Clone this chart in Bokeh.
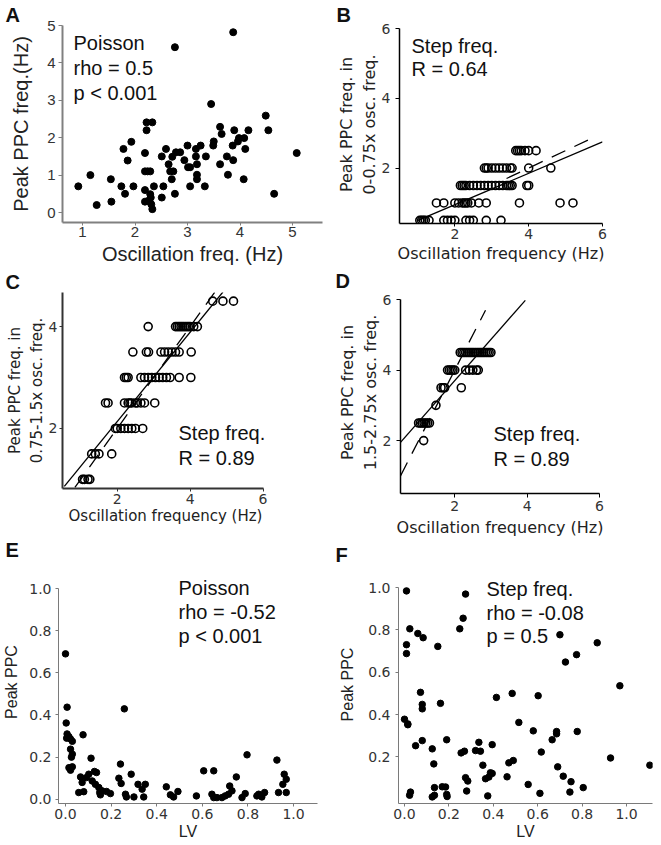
from bokeh.plotting import figure
from bokeh.models import Range1d, FixedTicker, Label, PrintfTickFormatter
from bokeh.layouts import row, column
from bokeh.embed import file_html
from bokeh.resources import INLINE

ARIAL = "Liberation Sans"
DJV = "DejaVu Sans"

# ---------------- data ----------------
# A: Poisson, oscillation freq vs peak PPC freq
a_osc = [0.92, 1.15, 1.27, 1.54, 1.55, 1.74, 1.78, 1.81, 1.86, 1.93,
         1.97, 2.19, 2.19, 2.19, 2.19, 2.24, 2.29, 2.22, 2.22, 2.33,
         2.25, 2.29, 2.30, 2.31, 2.33, 2.36, 2.51, 2.51, 2.54, 2.59,
         2.64, 2.67, 2.71, 2.73, 2.70, 2.76, 2.76, 2.78, 2.86, 2.94,
         3.00, 3.01, 3.05, 3.05, 3.16, 3.16, 3.18, 3.18, 3.18, 3.25,
         3.33, 3.35, 3.45, 3.49, 3.50, 3.62, 3.62, 3.65, 3.75, 3.77,
         3.86, 3.87, 3.87, 3.89, 3.96, 3.98, 4.07, 4.08, 4.10, 4.16,
         4.49, 4.54, 4.65, 5.08]
a_ppc = [0.70, 1.00, 0.20, 0.89, 0.29, 0.70, 1.70, 0.50, 1.39, 1.89,
         0.70, 1.59, 0.60, 0.29, 1.10, 1.10, 1.10, 2.20, 2.41, 2.41,
         0.31, 0.49, 0.40, 0.22, 0.09, 0.70, 0.40, 1.50, 0.70, 1.70,
         1.29, 1.10, 1.49, 1.10, 0.89, 0.50, 4.42, 1.61, 1.61, 1.40,
         1.79, 1.21, 1.21, 0.70, 1.70, 1.50, 1.29, 1.01, 0.89, 1.79,
         0.70, 1.50, 2.90, 1.79, 1.90, 1.29, 2.29, 2.10, 1.50, 1.01,
         1.79, 1.40, 4.82, 2.20, 1.90, 1.99, 0.89, 1.99, 1.70, 2.20,
         2.59, 2.20, 0.50, 1.59]

# B: step freq, 0-0.75x band
b_osc = [1.05, 1.1, 1.15, 1.2, 1.3, 1.7, 1.8, 1.9, 2.0, 2.3, 2.4, 2.5, 2.85, 3.25,
         1.5, 1.7, 2.0, 2.1, 2.2, 2.25, 2.3, 2.35, 2.45, 2.65, 2.85, 3.75, 4.85, 5.2,
         2.15, 2.2, 2.25, 2.3, 2.4, 2.5, 2.6, 2.7, 2.8, 2.9, 3.0, 3.1, 3.2, 3.3, 3.4, 3.45, 3.5, 3.55, 3.95, 4.0,
         2.8, 2.85, 2.9, 3.0, 3.1, 3.2, 3.3, 3.4, 3.5, 3.55, 4.0, 4.6,
         3.65, 3.7, 3.75, 3.8, 3.9, 4.0, 4.2]
b_peak = [0.5, 0.5, 0.5, 0.5, 0.5, 0.5, 0.5, 0.5, 0.5, 0.5, 0.5, 0.5, 0.5, 0.5,
          1.0, 1.0, 1.0, 1.0, 1.0, 1.0, 1.0, 1.0, 1.0, 1.0, 1.0, 1.0, 1.0, 1.0,
          1.5, 1.5, 1.5, 1.5, 1.5, 1.5, 1.5, 1.5, 1.5, 1.5, 1.5, 1.5, 1.5, 1.5, 1.5, 1.5, 1.5, 1.5, 1.5, 1.5,
          2.0, 2.0, 2.0, 2.0, 2.0, 2.0, 2.0, 2.0, 2.0, 2.0, 2.0, 2.0,
          2.5, 2.5, 2.5, 2.5, 2.5, 2.5, 2.5]
b_fit_x = [1.0, 6.0]
b_fit_y = [0.5, 2.75]
b_ref_x = [3.4, 5.85]
b_ref_y = [1.7, 2.925]

# C: step freq, 0.75-1.5x band
c_osc = [1.05, 1.1, 1.2, 1.25,
         1.3, 1.4, 1.5, 1.85,
         1.95, 2.0, 2.1, 2.2, 2.3, 2.4, 2.5, 2.7,
         1.68, 1.75, 2.2, 2.3, 2.35, 2.4, 2.5, 2.55, 2.65, 2.75, 3.03,
         2.2, 2.25, 2.3, 2.65, 2.75, 2.85, 2.95, 3.05, 3.15, 3.25, 3.35, 3.45, 3.7, 4.02,
         2.43, 2.8, 2.86, 3.2, 3.3, 3.4, 3.5, 3.6, 3.7, 4.03,
         2.85, 3.6, 3.65, 3.7, 3.75, 3.8, 3.85, 3.9, 3.95, 4.0, 4.1, 4.2,
         4.62, 4.9, 5.19]
c_peak = [1.0, 1.0, 1.0, 1.0,
          1.5, 1.5, 1.5, 1.5,
          2.0, 2.0, 2.0, 2.0, 2.0, 2.0, 2.0, 2.0,
          2.5, 2.5, 2.5, 2.5, 2.5, 2.5, 2.5, 2.5, 2.5, 2.5, 2.5,
          3.0, 3.0, 3.0, 3.0, 3.0, 3.0, 3.0, 3.0, 3.0, 3.0, 3.0, 3.0, 3.0, 3.0,
          3.5, 3.5, 3.5, 3.5, 3.5, 3.5, 3.5, 3.5, 3.5, 3.5,
          4.0, 4.0, 4.0, 4.0, 4.0, 4.0, 4.0, 4.0, 4.0, 4.0, 4.0, 4.0,
          4.5, 4.5, 4.5]
c_fit_x = [0.55, 4.9]
c_fit_y = [0.86, 4.68]
c_ref_x = [0.84, 4.75]
c_ref_y = [0.84, 4.75]

# D: step freq, 1.5-2.75x band
d_osc = [1.14,
         1.0, 1.05, 1.1, 1.15, 1.2, 1.25, 1.3,
         1.48,
         1.62, 1.68, 1.72, 2.18,
         1.8, 1.85, 1.9, 1.95, 2.0, 2.3, 2.4, 2.5, 2.6, 2.65,
         2.15, 2.2, 2.25, 2.3, 2.35, 2.4, 2.45, 2.5, 2.55, 2.6, 2.65, 2.7, 2.75, 2.8, 2.85, 2.9, 2.95, 3.0]
d_peak = [2.0,
          2.5, 2.5, 2.5, 2.5, 2.5, 2.5, 2.5,
          3.0,
          3.5, 3.5, 3.5, 3.5,
          4.0, 4.0, 4.0, 4.0, 4.0, 4.0, 4.0, 4.0, 4.0, 4.0,
          4.5, 4.5, 4.5, 4.5, 4.5, 4.5, 4.5, 4.5, 4.5, 4.5, 4.5, 4.5, 4.5, 4.5, 4.5, 4.5, 4.5, 4.5]
d_fit_x = [0.5, 3.95]
d_fit_y = [1.95, 5.98]
d_ref_x = [0.5, 2.85]
d_ref_y = [1.0, 5.7]

# E: Poisson, LV vs peak PPC
e_lv = [0.0, 0.007, 0.003, 0.007, 0.015, 0.005, 0.022, 0.03, 0.022, 0.03,
        0.026, 0.015, 0.022, 0.03, 0.058, 0.066, 0.073, 0.08, 0.077, 0.092,
        0.102, 0.112, 0.117, 0.127, 0.136, 0.131, 0.146, 0.15, 0.153, 0.16,
        0.18, 0.197, 0.241, 0.234, 0.244, 0.258, 0.263, 0.267, 0.288, 0.30,
        0.318, 0.336, 0.343, 0.35, 0.442, 0.46, 0.474, 0.493, 0.574, 0.606,
        0.642, 0.65, 0.65, 0.664, 0.686, 0.70, 0.715, 0.72, 0.73, 0.749,
        0.774, 0.788, 0.796, 0.839, 0.847, 0.861, 0.873, 0.927, 0.934, 0.953,
        0.959, 0.968, 0.968]
e_ppc = [0.69, 0.437, 0.362, 0.31, 0.297, 0.29, 0.286, 0.275, 0.238, 0.214,
         0.20, 0.15, 0.138, 0.154, 0.032, 0.106, 0.08, 0.036, 0.306, 0.103,
         0.119, 0.195, 0.087, 0.132, 0.127, 0.071, 0.056, 0.032, 0.021, 0.04,
         0.037, 0.027, 0.167, 0.10, 0.075, 0.429, 0.024, 0.011, 0.119, 0.011,
         0.071, 0.048, 0.011, 0.071, 0.059, 0.021, 0.011, 0.037, 0.016, 0.135,
         0.024, 0.135, 0.008, 0.008, 0.008, 0.016, 0.024, 0.063, 0.04, 0.106,
         0.008, 0.027, 0.211, 0.016, 0.024, 0.011, 0.032, 0.186, 0.032, 0.071,
         0.119, 0.095, 0.032]

# F: step freq, LV vs peak PPC
f_lv = [0.009, 0.275, 0.264, 0.249, 0.024, 0.06, 0.084, 0.009, 0.15, 0.009,
        0.70, 0.868, 0.775, 0.725, 0.97, 0.072, 0.08, 0.08, 0.162, 0.414,
        0.485, 0.602, 0.0, 0.015, 0.015, 0.515, 0.58, 0.685, 0.685, 0.778,
        0.665, 0.05, 0.08, 0.125, 0.19, 0.335, 0.255, 0.27, 0.32, 0.342,
        0.395, 0.616, 0.928, 1.105, 0.132, 0.353, 0.47, 0.49, 0.69, 0.275,
        0.285, 0.365, 0.38, 0.395, 0.387, 0.462, 0.715, 0.75, 0.745, 0.805,
        0.557, 0.61, 0.135, 0.17, 0.185, 0.28, 0.027, 0.023, 0.125, 0.135,
        0.19, 0.192, 0.375]
f_ppc = [0.984, 0.969, 0.855, 0.805, 0.805, 0.783, 0.763, 0.73, 0.722, 0.688,
         0.777, 0.739, 0.683, 0.648, 0.536, 0.505, 0.448, 0.427, 0.453, 0.481,
         0.50, 0.489, 0.378, 0.356, 0.352, 0.363, 0.323, 0.309, 0.32, 0.32,
         0.281, 0.253, 0.277, 0.238, 0.281, 0.269, 0.219, 0.227, 0.23, 0.227,
         0.258, 0.223, 0.195, 0.161, 0.167, 0.161, 0.172, 0.183, 0.153, 0.102,
         0.086, 0.097, 0.105, 0.122, 0.125, 0.106, 0.109, 0.083, 0.034, 0.055,
         0.07, 0.028, 0.055, 0.059, 0.058, 0.039, 0.034, 0.019, 0.011, 0.019,
         0.023, 0.013, 0.016]

a_xticks = [1, 2, 3, 4, 5]
a_yticks = [0, 1, 2, 3, 4, 5]
bd_xticks = [2, 4, 6]
bd_yticks = [2, 4, 6]
c_yticks = [2, 4]
e_ticks = [0.0, 0.2, 0.4, 0.6, 0.8, 1.0]
f_yticks = [0.2, 0.4, 0.6, 0.8, 1.0]


# ---------------- helpers ----------------
def make_fig(box, xr, yr, letter, letter_x):
    ox, oy, w, h, fl, ft, fw, fh = box
    p = figure(width=w, height=h, x_range=Range1d(*xr), y_range=Range1d(*yr),
               output_backend="svg", toolbar_location=None, title=letter,
               min_border_left=fl, min_border_right=w - fl - fw,
               min_border_top=ft, min_border_bottom=h - ft - fh)
    try:
        p.frame_align = False
    except Exception:
        pass
    p.xgrid.visible = False
    p.ygrid.visible = False
    p.outline_line_color = None
    p.background_fill_color = "white"
    p.border_fill_color = "white"
    t = p.title
    t.align = "left"
    t.vertical_align = "bottom"
    t.text_font = ARIAL
    t.text_font_size = "20px"
    t.text_font_style = "bold"
    t.text_color = "#111111"
    t.offset = letter_x - ox - fl - 3
    try:
        t.standoff = 0
    except Exception:
        pass
    return p


def style_axis(ax, ticks, lab, line_color, line_width, tick_font, tick_size,
               lab_font, lab_size, tick_out, tstand, lstand, fmt=None, bounds=None):
    ax.ticker = FixedTicker(ticks=ticks)
    ax.minor_tick_line_color = None
    ax.major_tick_in = 0
    ax.major_tick_out = tick_out
    ax.axis_line_color = line_color
    ax.axis_line_width = line_width
    ax.major_tick_line_color = line_color
    ax.major_tick_line_width = 1
    ax.major_label_text_font = tick_font
    ax.major_label_text_font_size = f"{tick_size}px"
    ax.major_label_text_color = "#333333"
    ax.major_label_standoff = tstand
    ax.axis_label = lab
    ax.axis_label_text_font = lab_font
    ax.axis_label_text_font_size = f"{lab_size}px"
    ax.axis_label_text_font_style = "normal"
    ax.axis_label_text_color = "#222222"
    ax.axis_label_standoff = lstand
    if bounds is not None:
        ax.bounds = bounds
    if fmt is not None:
        ax.formatter = PrintfTickFormatter(format=fmt)


def add_text(p, box, rx, ry, text, size, font=ARIAL):
    # rx, ry: page position of the text's left edge and baseline
    ox, oy, w, h, fl, ft, fw, fh = box
    sx = rx - ox - fl
    sy = (oy + ft + fh) - ry
    p.add_layout(Label(x=sx, y=sy, x_units="screen", y_units="screen", text=text,
                       text_font=font, text_font_size=f"{size}px",
                       text_baseline="alphabetic", text_align="left",
                       text_color="#111111"))


# boxes: page x, page y, width, height, frame left, frame top, frame width, frame height
BOX_A = (0, 0, 330, 268, 62, 25, 260, 197)
BOX_B = (330, 0, 330, 266, 69, 25, 203, 198)
BOX_C = (0, 268, 330, 260, 62, 24, 206, 196)
BOX_D = (330, 266, 330, 274, 70, 25, 199, 202)
BOX_E = (0, 528, 330, 316, 58, 32, 259, 243)
BOX_F = (330, 540, 330, 304, 68, 25, 254, 238)

# ---------------- panel A ----------------
pA = make_fig(BOX_A, (0.619, 5.571), (-0.267, 5.0), "A", 8)
pA.scatter(a_osc, a_ppc, size=7, color="black")
style_axis(pA.xaxis[0], a_xticks, "Oscillation freq. (Hz)", "#808080", 2, ARIAL, 15, ARIAL, 20, 3, 1, 3)
style_axis(pA.yaxis[0], a_yticks, "Peak PPC freq.(Hz)", "#808080", 2, ARIAL, 15, ARIAL, 20, 4, 3, 12)
add_text(pA, BOX_A, 73, 42, "Poisson", 20)
add_text(pA, BOX_A, 73, 67, "rho = 0.5", 20)
add_text(pA, BOX_A, 73, 92, "p < 0.001", 20)

# ---------------- panel B ----------------
pB = make_fig(BOX_B, (0.5, 6.0), (0.41, 6.09), "B", 339)
pB.scatter(b_osc, b_peak, size=8, fill_color=None, line_color="black", line_width=1.6)
pB.line(b_fit_x, b_fit_y, color="black", line_width=1.3)
pB.line(b_ref_x, b_ref_y, color="black", line_width=1.3, line_dash="15 10")
style_axis(pB.xaxis[0], bd_xticks, "Oscillation frequency (Hz)", "black", 1.5, DJV, 14, DJV, 16, 3, 2, 2)
style_axis(pB.yaxis[0], bd_yticks, "Peak PPC freq. in\n0-0.75x osc. freq.", "black", 1.5, DJV, 14, DJV, 16,
           4, 5, 0, bounds=(0.41, 6.0))
add_text(pB, BOX_B, 411, 45, "Step freq.", 20)
add_text(pB, BOX_B, 411, 68, "R = 0.64", 20)

# ---------------- panel C ----------------
pC = make_fig(BOX_C, (0.5, 6.15), (0.82, 4.67), "C", 8)
pC.scatter(c_osc, c_peak, size=8, fill_color=None, line_color="black", line_width=1.6)
pC.line(c_fit_x, c_fit_y, color="black", line_width=1.3)
pC.line(c_ref_x, c_ref_y, color="black", line_width=1.3, line_dash="15 10")
style_axis(pC.xaxis[0], bd_xticks, "Oscillation frequency (Hz)", "#333333", 2, DJV, 14, DJV, 15, 3, 2, 0,
           bounds=(0.5, 6.0))
style_axis(pC.yaxis[0], c_yticks, "Peak PPC freq. in\n0.75-1.5x osc. freq.", "#333333", 2, DJV, 14, DJV, 15,
           3, 2, 0)
add_text(pC, BOX_C, 178, 432, "Step freq.", 20)
add_text(pC, BOX_C, 178, 457, "R = 0.89", 20)

# ---------------- panel D ----------------
pD = make_fig(BOX_D, (0.5, 6.0), (0.5, 6.23), "D", 338)
pD.scatter(d_osc, d_peak, size=8, fill_color=None, line_color="black", line_width=1.6)
pD.line(d_fit_x, d_fit_y, color="black", line_width=1.3)
pD.line(d_ref_x, d_ref_y, color="black", line_width=1.3, line_dash="15 10")
style_axis(pD.xaxis[0], bd_xticks, "Oscillation frequency (Hz)", "black", 1.5, DJV, 14, DJV, 16, 4, 3, 4)
style_axis(pD.yaxis[0], bd_yticks, "Peak PPC freq. in\n1.5-2.75x osc. freq.", "black", 1.5, DJV, 14, DJV, 16,
           4, 5, 0, bounds=(0.5, 6.0))
add_text(pD, BOX_D, 493, 433, "Step freq.", 20)
add_text(pD, BOX_D, 493, 458, "R = 0.89", 20)

# ---------------- panel E ----------------
pE = make_fig(BOX_E, (-0.0307, 1.105), (-0.02, 1.133), "E", 8)
pE.scatter(e_lv, e_ppc, size=6.5, color="black")
style_axis(pE.xaxis[0], e_ticks, "LV", "#7a7a7a", 1, DJV, 14, ARIAL, 16, 3, 2, 1, fmt="%.1f")
style_axis(pE.yaxis[0], e_ticks, "Peak PPC", "#7a7a7a", 1, DJV, 14, ARIAL, 16, 3, 4, 6, fmt="%.1f",
           bounds=(-0.02, 1.0))
add_text(pE, BOX_E, 178, 587, "Poisson", 20)
add_text(pE, BOX_E, 178, 611, "rho = -0.52", 20)
add_text(pE, BOX_E, 178, 635, "p < 0.001", 20)

# ---------------- panel F ----------------
pF = make_fig(BOX_F, (-0.027, 1.117), (-0.02, 1.104), "F", 338)
pF.scatter(f_lv, f_ppc, size=6.5, color="black")
style_axis(pF.xaxis[0], e_ticks, "LV", "#7a7a7a", 1, DJV, 14, ARIAL, 16, 3, 2, 1, fmt="%.1f")
style_axis(pF.yaxis[0], f_yticks, "Peak PPC", "#7a7a7a", 1, DJV, 14, ARIAL, 16, 3, 5, 9, fmt="%.1f",
           bounds=(-0.02, 1.0))
add_text(pF, BOX_F, 486, 588, "Step freq.", 20)
add_text(pF, BOX_F, 486, 612, "rho = -0.08", 20)
add_text(pF, BOX_F, 486, 635, "p = 0.5", 20)

layout = row(column(pA, pC, pE), column(pB, pD, pF))
open("out.html", "w").write(file_html(layout, INLINE))
